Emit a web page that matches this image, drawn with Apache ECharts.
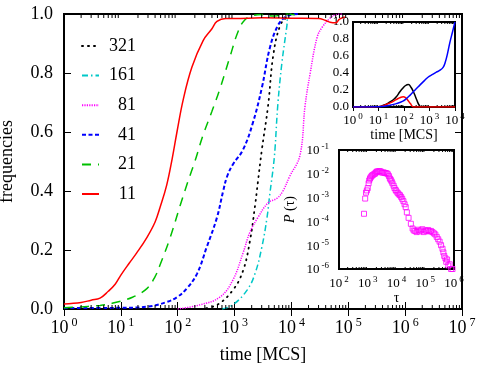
<!DOCTYPE html>
<html><head><meta charset="utf-8">
<script src="https://cdn.jsdelivr.net/npm/echarts@6/dist/echarts.min.js"></script>
<style>html,body{margin:0;padding:0;background:#fff}#c{width:480px;height:369px}</style>
</head><body><div id="c"></div>
<script>
// ---- main plot: frequencies vs time [MCS] ----
const legendNames = ['321','161','81','41','21','11'];
const t321 = [250, 490, 933, 1410, 1860, 2290, 2570, 3020, 3890, 4790, 6310, 8320, 10000];
const f321 = [0.0, 0.014, 0.064, 0.13, 0.23, 0.35, 0.43, 0.54, 0.69, 0.86, 0.96, 0.99, 1.0];
const t161 = [600, 933, 1660, 2290, 3020, 3720, 4170, 4790, 5130, 5750, 6760, 8320, 8710, 10000];
const f161 = [0.0, 0.014, 0.064, 0.12, 0.21, 0.31, 0.39, 0.48, 0.54, 0.69, 0.83, 0.96, 0.99, 1.0];
const t81 = [100, 245, 550, 933, 1410, 1860, 2570, 3890, 5620, 7080, 9330, 14100, 17400, 21400, 28200, 34700, 47900, 58900, 80000];
const f81 = [0.0, 0.014, 0.04, 0.098, 0.19, 0.26, 0.31, 0.36, 0.376, 0.40, 0.45, 0.52, 0.69, 0.80, 0.92, 0.955, 0.986, 0.997, 1.0];
const t41 = [1, 10, 30, 65, 97, 145, 219, 324, 490, 630, 741, 933, 1410, 2090, 3020, 4170, 5750, 7760, 10000, 14000];
const f41 = [0.003, 0.004, 0.008, 0.024, 0.04, 0.07, 0.12, 0.21, 0.31, 0.40, 0.45, 0.49, 0.54, 0.63, 0.75, 0.885, 0.96, 0.99, 0.998, 1.0];
const t21 = [1, 4.3, 7.3, 16, 29, 40, 49, 73, 110, 150, 200, 280, 400, 550, 830, 1150, 1510, 2130, 3000, 5000, 8000, 12000];
const f21 = [0.004, 0.012, 0.02, 0.04, 0.07, 0.11, 0.15, 0.24, 0.35, 0.43, 0.5, 0.59, 0.67, 0.745, 0.855, 0.94, 0.98, 0.995, 0.998, 0.993, 1.0, 0.997];
const t11 = [1, 2, 3, 4.3, 6, 8, 10, 14, 19, 29, 40, 49, 64, 80, 97, 125, 178, 280, 400, 490, 700, 1000, 3000, 10000, 30000, 40000, 48000, 60000, 70000, 87000];
const f11 = [0.017, 0.022, 0.03, 0.037, 0.06, 0.085, 0.115, 0.155, 0.19, 0.244, 0.295, 0.345, 0.42, 0.51, 0.6, 0.71, 0.82, 0.91, 0.95, 0.975, 0.985, 0.985, 0.987, 0.986, 0.985, 0.978, 0.972, 0.97, 0.983, 0.99];

// ---- inset 1 ----
const tInK = [1, 6.3, 10, 15.5, 25, 38, 50, 69, 89, 112, 148, 191, 234, 282, 339, 398, 479, 1000, 10000];
const fInK = [0, 0, 0.003, 0.02, 0.05, 0.085, 0.12, 0.18, 0.22, 0.25, 0.265, 0.23, 0.18, 0.12, 0.06, 0.02, 0, 0, 0];
const tInR = [1, 6.3, 11.5, 20, 31.6, 44.7, 59, 76, 93, 115, 141, 178, 234, 1000, 10000];
const fInR = [0, 0, 0.005, 0.03, 0.055, 0.08, 0.1, 0.115, 0.12, 0.11, 0.08, 0.04, 0, 0, 0];
const tInB = [1, 10, 28, 50, 91, 126, 174, 251, 316, 427, 631, 871, 1260, 1860, 2510, 3470, 4170, 5010, 6310, 7940, 10000];
const fInB = [0, 0.003, 0.02, 0.04, 0.07, 0.1, 0.14, 0.19, 0.22, 0.26, 0.31, 0.35, 0.38, 0.41, 0.43, 0.47, 0.53, 0.62, 0.76, 0.88, 1.0];

// ---- inset 2: P(tau) ----
const tau = [741, 813, 871, 933, 1000, 1070, 1120, 1200, 1260, 1350, 1450, 1580, 1740, 1860, 2000, 2140, 2340, 2570, 2820, 3160, 3470, 3800, 4170, 4570, 5010, 5500, 5890, 6310, 6760, 7240, 7940, 8510, 9330,
  1.0e4, 1.1e4, 1.2e4, 1.32e4, 1.45e4, 1.58e4, 1.74e4, 1.91e4, 2.09e4, 2.29e4, 2.63e4, 3.16e4, 3.63e4, 3.98e4, 4.47e4, 5.01e4, 5.75e4, 6.31e4, 7.08e4, 7.94e4, 8.91e4,
  1.0e5, 1.12e5, 1.26e5, 1.41e5, 1.58e5, 1.78e5, 2.0e5, 2.24e5, 2.51e5, 2.82e5, 3.16e5, 3.55e5, 3.98e5, 4.27e5, 4.57e5, 5.01e5, 5.37e5, 5.75e5, 6.31e5, 7.08e5, 7.94e5, 8.91e5];
const Ptau = [2.09e-4, 9.1e-4, 1.62e-3, 2.0e-3, 2.51e-3, 3.98e-3, 5.25e-3, 6.31e-3, 7.08e-3, 7.94e-3, 8.71e-3, 9.33e-3, 1.0e-2, 1.07e-2, 1.2e-2, 1.26e-2, 1.26e-2, 1.29e-2, 1.26e-2, 1.12e-2, 1.15e-2, 1.1e-2, 1.07e-2, 1.05e-2, 9.55e-3, 7.94e-3, 6.31e-3, 5.62e-3, 4.79e-3, 3.98e-3, 3.16e-3, 2.51e-3, 2.09e-3,
  1.82e-3, 1.58e-3, 1.38e-3, 1.26e-3, 1.07e-3, 8.91e-4, 7.08e-4, 5.25e-4, 3.98e-4, 2.4e-4, 1.41e-4, 7.94e-5, 5.01e-5, 4.17e-5, 3.98e-5, 3.55e-5, 4.47e-5, 3.8e-5, 4.17e-5, 4.68e-5, 3.55e-5,
  4.17e-5, 3.98e-5, 4.37e-5, 3.8e-5, 3.98e-5, 3.55e-5, 3.16e-5, 2.82e-5, 2.24e-5, 1.78e-5, 1.41e-5, 1.0e-5, 7.08e-6, 5.01e-6, 3.55e-6, 2.82e-6, 2.0e-6, 2.51e-6, 1.41e-6, 1.58e-6, 1.0e-6, 1.0e-6];

const FONT = 'Liberation Serif';
const zip = (a, b) => a.map((v, i) => [v, b[i]]);

function powLabel(v) {
  return '{b|10}{s|' + Math.round(Math.log10(v)) + '}';
}
function richPow(big, small) {
  return {
    b: { fontSize: big, fontFamily: FONT, color: '#000', lineHeight: big + 2, verticalAlign: 'bottom' },
    s: { fontSize: small, fontFamily: FONT, color: '#000', padding: [0, 0, 0, Math.round(small / 4)], verticalAlign: 'top', lineHeight: small }
  };
}
function logMinors(e0, e1) {
  const out = [];
  for (let n = e0; n < e1; n++) for (let k = 2; k <= 9; k++) out.push(k * Math.pow(10, n));
  return out;
}
function minorTickSeries(xi, yi, vals, yv, len) {
  return {
    type: 'custom', xAxisIndex: xi, yAxisIndex: yi, silent: true, clip: false, z: 5,
    data: vals.map(v => [v, yv]),
    encode: { x: 0, y: 1 },
    renderItem: (params, api) => {
      const cs = params.coordSys;
      const x = api.coord([api.value(0), api.value(1)])[0];
      return { type: 'group', children: [
        { type: 'line', shape: { x1: x, y1: cs.y + cs.height, x2: x, y2: cs.y + cs.height - len }, style: { stroke: '#000', lineWidth: 1 } },
        { type: 'line', shape: { x1: x, y1: cs.y, x2: x, y2: cs.y + len }, style: { stroke: '#000', lineWidth: 1 } }
      ] };
    }
  };
}

const tickIn = (len) => ({ show: true, inside: true, length: len, lineStyle: { color: '#000', width: 1 } });
const noLine = { show: false };

const chart = echarts.init(document.getElementById('c'), null, { renderer: 'canvas' });
const mainStyles = {
  '321': { color: '#000000', type: [1, 5], width: 1.8, cap: 'round' },
  '161': { color: '#00c8c8', type: [6, 3, 1.5, 3], width: 1.5 },
  '81':  { color: '#ff00ff', type: [1.2, 1.2], width: 1.5 },
  '41':  { color: '#0000ff', type: [4, 2.5], width: 2 },
  '21':  { color: '#00c000', type: [9, 7], width: 1.5 },
  '11':  { color: '#ff0000', type: 'solid', width: 1.5 }
};
const mainData = { '321': zip(t321, f321), '161': zip(t161, f161), '81': zip(t81, f81), '41': zip(t41, f41), '21': zip(t21, f21), '11': zip(t11, f11) };

const mainSeries = legendNames.map(n => ({
  name: n, type: 'line', xAxisIndex: 0, yAxisIndex: 0, data: mainData[n],
  showSymbol: false, symbol: 'none', smooth: 0.4,
  itemStyle: { color: mainStyles[n].color },
  lineStyle: { color: mainStyles[n].color, type: mainStyles[n].type, width: mainStyles[n].width, cap: mainStyles[n].cap || 'butt' },
  z: 3
}));

const insetLine = (name, data, color) => ({
  name, type: 'line', xAxisIndex: 2, yAxisIndex: 2, data, showSymbol: false, symbol: 'none',
  smooth: 0.45, lineStyle: { color, width: 1.5 }, itemStyle: { color }, z: 6
});

const gridBase = { show: true, borderColor: '#000', borderWidth: 2, outerBoundsMode: 'none', containLabel: false };

chart.setOption({
  animation: false,
  backgroundColor: '#fff',
  textStyle: { fontFamily: FONT, color: '#000' },
  grid: [
    Object.assign({ left: 64, top: 14, width: 398, height: 295, backgroundColor: 'transparent', z: 1 }, gridBase),
    Object.assign({ left: 353, top: 22, width: 102, height: 85, backgroundColor: '#fff', z: 4 }, gridBase),
    Object.assign({ left: 339, top: 150, width: 115, height: 119, backgroundColor: '#fff', z: 4 }, gridBase)
  ],
  legend: {
    data: legendNames, orient: 'vertical', left: 81, top: 37, padding: 0,
    itemWidth: 17, itemHeight: 14, itemGap: 11.6,
    itemStyle: { opacity: 0 },
    formatter: n => '{n|' + n + '}',
    textStyle: { rich: { n: { width: 32, align: 'right', fontSize: 18, fontFamily: FONT, color: '#000', lineHeight: 18 } } }
  },
  xAxis: [
    { type: 'log', gridIndex: 0, min: 1, max: 1e7, logBase: 10, splitNumber: 7, position: 'bottom',
      axisLine: noLine, axisTick: tickIn(7), splitLine: { show: false },
      axisLabel: { formatter: powLabel, margin: 8, rich: richPow(18, 12), showMaxLabel: true, hideOverlap: false },
      name: 'time [MCS]', nameLocation: 'middle', nameGap: 37, nameTextStyle: { fontSize: 18, fontFamily: FONT, color: '#000' } },
    { type: 'log', gridIndex: 0, min: 1, max: 1e7, logBase: 10, splitNumber: 7, position: 'top',
      axisLine: noLine, axisTick: tickIn(7), axisLabel: { show: false }, splitLine: { show: false } },
    { type: 'log', gridIndex: 1, min: 1, max: 1e4, logBase: 10, splitNumber: 4, position: 'bottom',
      axisLine: noLine, axisTick: tickIn(4), splitLine: { show: false },
      axisLabel: { formatter: powLabel, margin: 5, rich: richPow(13, 9), showMaxLabel: true, hideOverlap: false },
      name: 'time [MCS]', nameLocation: 'middle', nameGap: 19, nameTextStyle: { fontSize: 14, fontFamily: FONT, color: '#000' } },
    { type: 'log', gridIndex: 1, min: 1, max: 1e4, logBase: 10, splitNumber: 4, position: 'top',
      axisLine: noLine, axisTick: tickIn(4), axisLabel: { show: false }, splitLine: { show: false } },
    { type: 'log', gridIndex: 2, min: 1e2, max: 1e6, logBase: 10, splitNumber: 4, position: 'bottom',
      axisLine: noLine, axisTick: tickIn(4), splitLine: { show: false },
      axisLabel: { formatter: powLabel, margin: 6, rich: richPow(13, 9), showMaxLabel: true, hideOverlap: false },
      name: 'τ', nameLocation: 'middle', nameGap: 18, nameTextStyle: { fontSize: 14, fontFamily: FONT, color: '#000' } },
    { type: 'log', gridIndex: 2, min: 1e2, max: 1e6, logBase: 10, splitNumber: 4, position: 'top',
      axisLine: noLine, axisTick: tickIn(4), axisLabel: { show: false }, splitLine: { show: false } }
  ],
  yAxis: [
    { type: 'value', gridIndex: 0, min: 0, max: 1, interval: 0.2, position: 'left',
      axisLine: noLine, axisTick: tickIn(7), splitLine: { show: false },
      axisLabel: { formatter: v => v.toFixed(1), margin: 11, fontSize: 18, fontFamily: FONT, color: '#000' },
      name: 'frequencies', nameLocation: 'middle', nameGap: 48, nameTextStyle: { fontSize: 18, fontFamily: FONT, color: '#000' } },
    { type: 'value', gridIndex: 0, min: 0, max: 1, interval: 0.2, position: 'right',
      axisLine: noLine, axisTick: tickIn(7), axisLabel: { show: false }, splitLine: { show: false } },
    { type: 'value', gridIndex: 1, min: 0, max: 1, interval: 0.2, position: 'left',
      axisLine: noLine, axisTick: tickIn(4), splitLine: { show: false },
      minorTick: { show: true, splitNumber: 2, length: 2, lineStyle: { color: '#000' } },
      axisLabel: { formatter: v => v.toFixed(1), margin: 4, fontSize: 13, fontFamily: FONT, color: '#000' } },
    { type: 'value', gridIndex: 1, min: 0, max: 1, interval: 0.2, position: 'right',
      axisLine: noLine, axisTick: tickIn(4), axisLabel: { show: false }, splitLine: { show: false },
      minorTick: { show: true, splitNumber: 2, length: 2, lineStyle: { color: '#000' } } },
    { type: 'log', gridIndex: 2, min: 1e-6, max: 1e-1, logBase: 10, splitNumber: 5, position: 'left',
      axisLine: noLine, axisTick: tickIn(4), splitLine: { show: false },
      axisLabel: { formatter: powLabel, margin: 10, rich: richPow(13, 9) },
      name: '{i|P} (τ)', nameLocation: 'middle', nameGap: 42,
      nameTextStyle: { fontSize: 14, fontFamily: FONT, color: '#000', rich: { i: { fontStyle: 'italic', fontSize: 14, fontFamily: FONT, color: '#000' } } } },
    { type: 'log', gridIndex: 2, min: 1e-6, max: 1e-1, logBase: 10, splitNumber: 5, position: 'right',
      axisLine: noLine, axisTick: tickIn(4), axisLabel: { show: false }, splitLine: { show: false } }
  ],
  series: [
    ...mainSeries,
    insetLine('inK', zip(tInK, fInK), '#000000'),
    insetLine('inR', zip(tInR, fInR), '#ff0000'),
    insetLine('inB', zip(tInB, fInB), '#0000ff'),
    { name: 'Ptau', type: 'scatter', xAxisIndex: 4, yAxisIndex: 4, data: zip(tau, Ptau),
      symbol: 'rect', symbolSize: 5, itemStyle: { color: 'transparent', borderColor: '#ff00ff', borderWidth: 1 }, z: 6 },
    minorTickSeries(0, 0, logMinors(0, 7), 0.5, 4),
    minorTickSeries(2, 2, logMinors(0, 4), 0.5, 2),
    minorTickSeries(4, 4, logMinors(2, 6), 1e-3, 2)
  ]
});
</script>
</body></html>
